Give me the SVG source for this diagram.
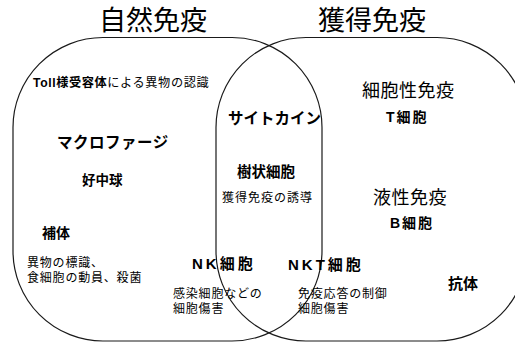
<svg xmlns="http://www.w3.org/2000/svg" width="515" height="344" viewBox="0 0 515 344">
<style>
text{font-family:"Liberation Sans","Noto Sans CJK JP",sans-serif;fill:#000}
.title{font-size:27px}
.b{font-weight:bold}
.s{font-size:12px;letter-spacing:0.8px}
.m{font-size:18px}
.set{fill:none;stroke:#1a1a1a;stroke-width:1.2}
</style>
<g id="sets">
<rect id="innate-set" class="set" x="13" y="37.5" width="309" height="303.5" rx="90" ry="90"/>
<rect id="adaptive-set" class="set" x="216" y="37.5" width="311" height="303.5" rx="90" ry="90"/>
</g>
<g id="innate-title"><text class="title" x="153" y="30" text-anchor="middle">自然免疫</text></g>
<g id="adaptive-title"><text class="title" x="372" y="30" text-anchor="middle">獲得免疫</text></g>
<g id="toll"><text x="33" y="87" font-size="12.2" letter-spacing="0.6"><tspan class="b">Toll様受容体</tspan>による異物の認識</text></g>
<g id="macrophage"><text class="b" x="57" y="148" font-size="15.5" letter-spacing="0.5">マクロファージ</text></g>
<g id="neutrophil"><text class="b" x="82" y="185" font-size="13.5">好中球</text></g>
<g id="complement"><text class="b" x="42" y="238" font-size="14">補体</text>
<text class="s" x="27" y="267">異物の標識、</text>
<text class="s" x="27" y="282">食細胞の動員、殺菌</text></g>
<g id="cytokine"><text class="b" x="228" y="124" font-size="15.5">サイトカイン</text></g>
<g id="dendritic"><text class="b" x="237" y="177" font-size="14.5">樹状細胞</text>
<text x="222" y="202" font-size="12" letter-spacing="1">獲得免疫の誘導</text></g>
<g id="cellular"><text class="m" x="362" y="97" letter-spacing="0.5">細胞性免疫</text>
<text class="b" x="386" y="122" font-size="14" letter-spacing="2">T細胞</text></g>
<g id="humoral"><text class="m" x="373" y="204" letter-spacing="0.5">液性免疫</text>
<text class="b" x="390" y="228" font-size="14" letter-spacing="2">B細胞</text></g>
<g id="nk"><text class="b" x="192" y="269" font-size="15" letter-spacing="3">NK細胞</text>
<text class="s" x="173" y="298">感染細胞などの</text>
<text class="s" x="173" y="313">細胞傷害</text></g>
<g id="nkt"><text class="b" x="288" y="270" font-size="15" letter-spacing="3">NKT細胞</text>
<text class="s" x="298" y="298">免疫応答の制御</text>
<text class="s" x="298" y="313">細胞傷害</text></g>
<g id="antibody"><text class="b" x="448" y="289" font-size="15">抗体</text></g>
</svg>
